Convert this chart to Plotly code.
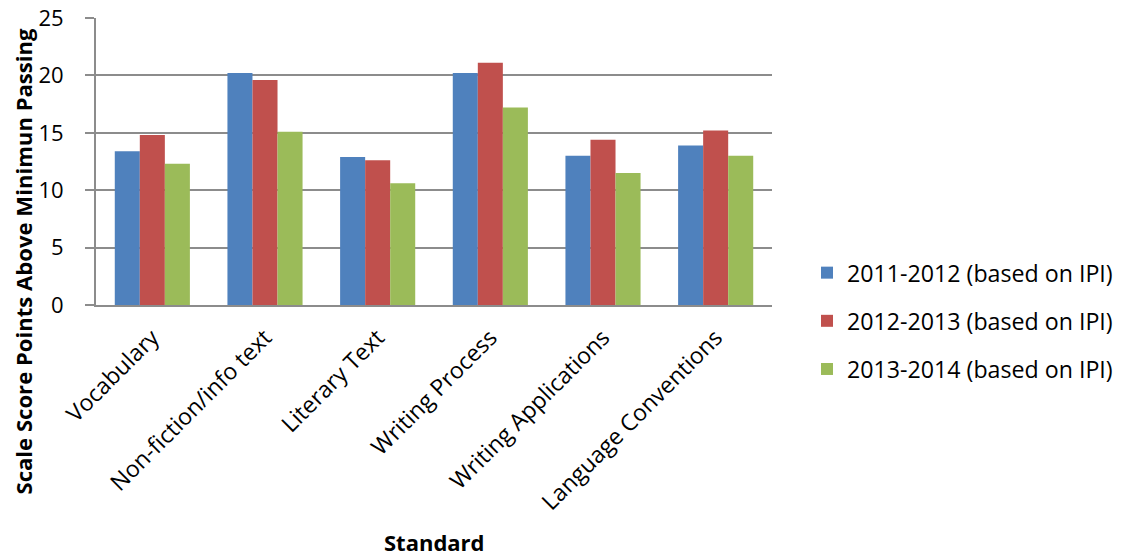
import plotly.graph_objects as go

# Categories and series values
standards = ["Vocabulary", "Non-fiction/info text", "Literary Text",
             "Writing Process", "Writing Applications", "Language Conventions"]
series_names = ["2011-2012 (based on IPI)", "2012-2013 (based on IPI)",
                "2013-2014 (based on IPI)"]
values_2011_2012 = [13.4, 20.2, 12.9, 20.2, 13.0, 13.9]
values_2012_2013 = [14.8, 19.6, 12.6, 21.1, 14.4, 15.2]
values_2013_2014 = [12.3, 15.1, 10.6, 17.2, 11.5, 13.0]
y_ticks = [0, 5, 10, 15, 20, 25]

colors = ["#4F81BD", "#C0504D", "#9BBB59"]
FONT = "Open Sans"
GRID = "#8C8C8C"

fig = go.Figure()
for i, (name, vals) in enumerate(zip(series_names,
                                     [values_2011_2012, values_2012_2013, values_2013_2014])):
    fig.add_trace(go.Bar(
        x=standards, y=vals, name=name,
        marker=dict(color=colors[i], line=dict(width=0)),
        legendgroup=f"g{i}",
    ))

fig.update_layout(
    width=1122, height=556,
    margin=dict(l=96, r=350, t=18, b=251, autoexpand=False),
    paper_bgcolor="white", plot_bgcolor="white",
    barmode="group", bargap=1/3, bargroupgap=0,
    font=dict(family=FONT, color="#000000"),
    showlegend=True,
    legend=dict(
        x=807 / 1122, xref="container", xanchor="left",
        y=-0.056, yref="paper", yanchor="middle",
        font=dict(family=FONT, size=23.2, color="#000000"),
        traceorder="grouped", tracegroupgap=15,
        itemwidth=30, bgcolor="rgba(0,0,0,0)",
    ),
    xaxis=dict(
        automargin=False,
        showgrid=False, showline=True, linecolor=GRID, linewidth=2,
        ticks="", tickangle=-45, tickfont=dict(family=FONT, size=23),
        ticklabelstandoff=8,
    ),
    yaxis=dict(
        automargin=False,
        range=[0, 25], tickvals=y_ticks, ticktext=[str(v) for v in y_ticks],
        showgrid=True, gridcolor=GRID, gridwidth=2,
        showline=True, linecolor=GRID, linewidth=2,
        ticks="outside", ticklen=9, tickwidth=2, tickcolor=GRID,
        tickfont=dict(family=FONT, size=22), ticklabelstandoff=17,
        zeroline=False,
    ),
    annotations=[
        dict(text="<b>Scale Score Points Above Minimun Passing</b>",
             textangle=-90, xref="paper", yref="paper",
             x=0, xshift=-74, y=(305 - 261.5) / 287, xanchor="center", yanchor="middle",
             showarrow=False, font=dict(family=FONT, size=22.1, color="#000000")),
        dict(text="<b>Standard</b>", xref="paper", yref="paper",
             x=0.5, y=(305 - 542) / 287, xanchor="center", yanchor="middle",
             showarrow=False, font=dict(family=FONT, size=22, color="#000000")),
    ],
)

fig.write_html("out.html")
